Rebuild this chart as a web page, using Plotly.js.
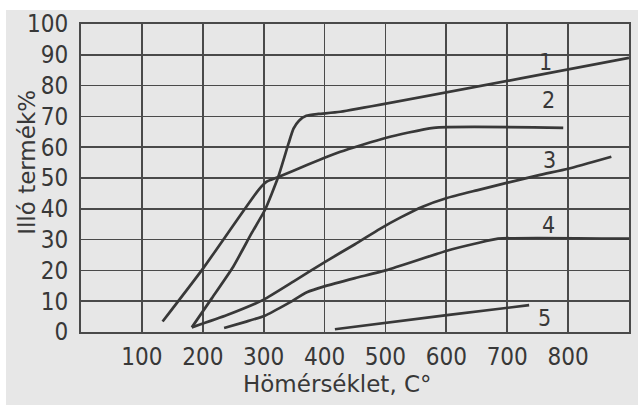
<!DOCTYPE html>
<html>
<head>
<meta charset="utf-8">
<script src="https://cdn.plot.ly/plotly-3.0.1.min.js"></script>
<style>
  html, body { margin: 0; padding: 0; background: #ffffff; }
  #chart { width: 638px; height: 405px; }
</style>
</head>
<body>
<div id="chart"></div>
<script>
// Curve data (temperature °C, volatile product %)
const c1x = [182, 215, 250, 280, 302, 324, 341, 349, 358, 370, 390, 426, 900];
const c1y = [1.5, 11, 21.2, 32, 39.6, 50.4, 61.3, 66, 68.6, 70.2, 70.8, 71.5, 89];

const c2x = [134, 200, 291, 305, 324, 371, 426, 500, 579, 792];
const c2y = [3.4, 20.5, 46, 48.8, 50.3, 54.2, 58.5, 63, 66.3, 66.3];

const c3x = [182, 240, 300, 350, 401, 450, 491, 525, 560, 601, 650, 699, 754, 800, 871];
const c3y = [1.5, 5.5, 10.5, 16.5, 22.8, 28.5, 33.5, 37.2, 40.6, 43.5, 46.0, 48.4, 51, 53, 56.9];

const c4x = [235, 270, 302, 340, 371, 401, 450, 502, 601, 650, 685, 900];
const c4y = [1.3, 3.3, 5.3, 9.3, 12.9, 14.9, 17.5, 20.1, 26.4, 28.8, 30.3, 30.3];

const c5x = [417, 601, 736];
const c5y = [0.9, 5.5, 8.7];

const curveLabels = ['1', '2', '3', '4', '5'];
const labelX = [763, 767, 770, 767, 762];
const labelY = [87.7, 75.3, 55.8, 34.7, 4.4];

const xTicks = [100, 200, 300, 400, 500, 600, 700, 800];
const yTicks = [0, 10, 20, 30, 40, 50, 60, 70, 80, 90, 100];

const xTitle = 'Hömérséklet, C°';
const yTitle = 'Illó termék%';

const ink = '#383838';
const gridInk = '#4a4a4a';
const bg = '#e7e7e7';
const tickFont = { family: '"Liberation Sans Narrow", "DejaVu Sans Condensed", "Liberation Sans", sans-serif', size: 24, color: ink };
const textFont = { family: '"DejaVu Sans", "Liberation Sans", sans-serif', size: 23, color: ink };

const lineStyle = { color: ink, width: 2.7, shape: 'spline', smoothing: 0.5 };
const series = [[c1x, c1y], [c2x, c2y], [c3x, c3y], [c4x, c4y], [c5x, c5y]];
const traces = series.map(s => ({
  x: s[0], y: s[1], type: 'scatter', mode: 'lines',
  line: lineStyle, hoverinfo: 'skip', showlegend: false
}));

const annotations = curveLabels.map((t, i) => ({
  x: labelX[i], y: labelY[i], xref: 'x', yref: 'y', text: t,
  showarrow: false, font: { family: tickFont.family, size: 23, color: ink }
}));
annotations.push({
  x: -0.1, y: 0.55, xref: 'paper', yref: 'paper', text: yTitle,
  textangle: -90, showarrow: false, font: textFont, xanchor: 'center', yanchor: 'middle'
});
annotations.push({
  x: (337 - 81) / 548, y: 1 - (384 - 24) / 308, xref: 'paper', yref: 'paper', text: xTitle,
  showarrow: false, font: textFont, xanchor: 'center', yanchor: 'middle'
});

const layout = {
  width: 638, height: 405,
  margin: { l: 81, r: 9, t: 24, b: 73 },
  paper_bgcolor: bg, plot_bgcolor: bg,
  showlegend: false,
  xaxis: {
    range: [0, 900], tickvals: xTicks, ticktext: xTicks.map(String),
    showgrid: true, gridcolor: gridInk, gridwidth: 1.7,
    zeroline: false, showline: true, mirror: true, linecolor: gridInk, linewidth: 1.9,
    ticks: '', tickfont: tickFont, ticklabelstandoff: 2, fixedrange: true
  },
  yaxis: {
    range: [0, 100], tickvals: yTicks, ticktext: yTicks.map(String),
    showgrid: true, gridcolor: gridInk, gridwidth: 1.7,
    zeroline: false, showline: true, mirror: true, linecolor: gridInk, linewidth: 1.9,
    ticks: '', tickfont: tickFont, ticklabelstandoff: 6, fixedrange: true
  },
  annotations: annotations,
  shapes: [
    { type: 'rect', xref: 'paper', yref: 'paper', x0: -0.2, x1: (6 - 81) / 548, y0: -0.3, y1: 1.2,
      fillcolor: '#ffffff', line: { width: 0 }, layer: 'below' },
    { type: 'rect', xref: 'paper', yref: 'paper', x0: -0.2, x1: 1.1, y0: 1 - (10 - 24) / 308, y1: 1.2,
      fillcolor: '#ffffff', line: { width: 0 }, layer: 'below' }
  ]
};

Plotly.newPlot('chart', traces, layout, { displayModeBar: false, staticPlot: true });
</script>
</body>
</html>
